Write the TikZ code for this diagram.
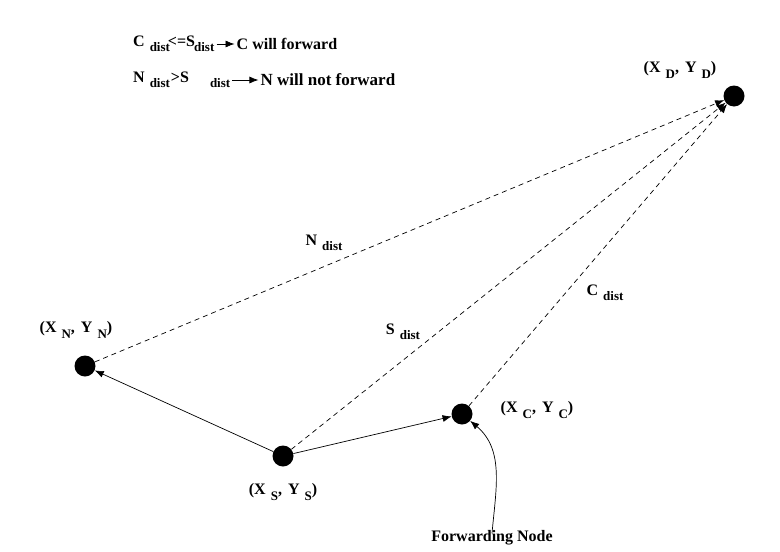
\documentclass[tikz,border=0pt]{standalone}
\usepackage{fontspec}
\setmainfont{Liberation Serif}
\usepackage{tikz}
\usetikzlibrary{arrows.meta,positioning,calc}
\newcommand{\lowsub}[1]{\hspace{5pt}\raisebox{-0.7ex}{\fontsize{13}{14}\selectfont #1}}

\begin{document}
\begin{tikzpicture}[x=1pt,y=-1pt,
      dot/.style={circle,fill=black,inner sep=0pt,minimum size=21pt},
      lbl/.style={font=\fontsize{16}{19}\selectfont\bfseries,inner sep=0pt},
      arr/.style={-{Latex[length=9pt,width=7pt]},line width=0.7pt},
      dist/.style={arr,dash pattern=on 5pt off 4pt}
    ]
      \useasboundingbox (0,0) rectangle (780,552);
      \node[dot] (D) at (734,96) {};
      \node[dot] (N) at (85,366) {};
      \node[dot] (S) at (283,456) {};
      \node[dot] (C) at (462,414) {};
      \node[lbl] (dl) at (680,70) {(X\lowsub{D},\hspace{2pt} Y\lowsub{D})};
      \node[lbl] (nl) at (76,330) {(X\lowsub{N},\hspace{2pt} Y\lowsub{N})};
      \node[lbl] (sl) at (283,492) {(X\lowsub{S},\hspace{2pt} Y\lowsub{S})};
      \node[lbl] (cl) at (537,410) {(X\lowsub{C},\hspace{2pt} Y\lowsub{C})};
      \node[lbl] (fwd) at (492,538) {Forwarding Node};
      \node[lbl] (nd) at (324,243) {N\lowsub{dist}};
      \node[lbl] (sd) at (403,332) {S\lowsub{dist}};
      \node[lbl] (cd) at (605,293) {C\lowsub{dist}};
      % rules at the top
      \node[lbl,anchor=west] (r1) at (133,44) {C\lowsub{dist}\hspace{-2pt}<=S\hspace{-6pt}\lowsub{dist}};
      \node[lbl,anchor=west,right=22pt of r1] (r1b) {C will forward};
      \node[lbl,anchor=west] (r2) at (133,80) {N\lowsub{dist}\hspace{1pt}>S\hspace{16pt}\lowsub{dist}};
      \node[lbl,anchor=west,right=30pt of r2,font=\fontsize{17}{20}\selectfont\bfseries] (r2b) {N will not forward};
      \draw[arr] ([xshift=2pt]r1.east) -- ([xshift=-2pt]r1b.west);
      \draw[arr] ([xshift=2pt]r2.east) -- ([xshift=-2pt]r2b.west);
      % links
      \draw[arr] (S) -- (N);
      \draw[arr] (S) -- (C);
      \draw[dist] (N) -- (D);
      \draw[dist] (S) -- (D);
      \draw[dist] (C) -- (D);
      \draw[arr] ([yshift=-3pt]fwd.north) to[out=85,in=-40] (C);
    \end{tikzpicture}
\end{document}
